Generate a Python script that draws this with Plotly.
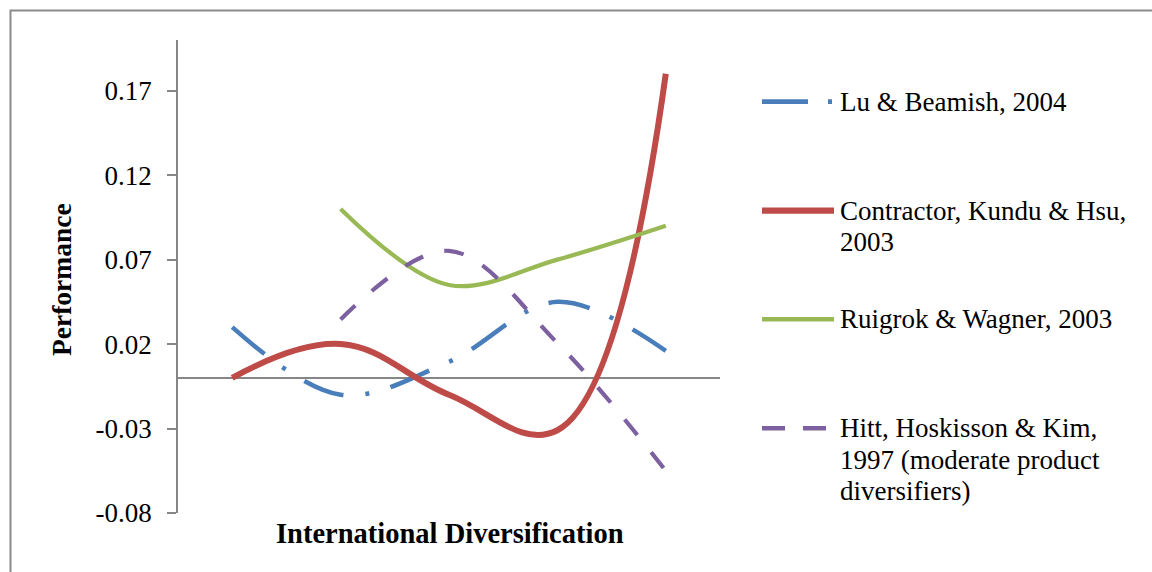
import plotly.graph_objects as go

# ---- data -------------------------------------------------------------
categories = [1, 2, 3, 4, 5]
lu_beamish = [0.030, -0.010, 0.0095, 0.045, 0.016]
contractor = [0.000, 0.020, -0.010, -0.031, 0.180]
ruigrok = [None, 0.100, 0.055, 0.070, 0.090]
hitt = [None, 0.0346, 0.0752, 0.0206, -0.055]

series_names = [
    "Lu & Beamish, 2004",
    "Contractor, Kundu & Hsu,<br>2003",
    "Ruigrok & Wagner, 2003",
    "Hitt, Hoskisson & Kim,<br>1997 (moderate product<br>diversifiers)",
]
y_tickvals = [-0.08, -0.03, 0.02, 0.07, 0.12, 0.17]
y_ticktext = ["-0.08", "-0.03", "0.02", "0.07", "0.12", "0.17"]
x_title = "International Diversification"
y_title = "Performance"

# ---- styling ----------------------------------------------------------
W, H = 1152, 572
L, R, T, B = 178, 720, 40, 513          # plot area in pixels
GRAY = "#868686"
FONT = "Liberation Serif"

styles = [
    dict(color="#4A7EBB", width=4.5, dash="42px,22px,4px,22px", smoothing=1.0),
    dict(color="#BE4B48", width=6, dash="solid", smoothing=1.15),
    dict(color="#98B954", width=4.2, dash="solid", smoothing=1.0),
    dict(color="#7D60A0", width=4.2, dash="20px,22px", smoothing=1.0),
]
legend_dash = ["46px,20px,4px,20px", "solid", "solid", "23px,18px"]


def px(x):
    return (x - L) / (R - L)


def py(y):
    return (B - y) / (B - T)


fig = go.Figure()
for name, values, st in zip(series_names, [lu_beamish, contractor, ruigrok, hitt], styles):
    fig.add_trace(go.Scatter(
        x=categories, y=values, mode="lines",
        name=name.replace("<br>", " "),
        line=dict(color=st["color"], width=st["width"], dash=st["dash"],
                  shape="spline", smoothing=st["smoothing"]),
        hoverinfo="skip",
    ))

shapes = [
    # outer chart frame
    dict(type="rect", xref="paper", yref="paper",
         x0=px(10.5), x1=px(1175), y0=py(590), y1=py(10.5),
         line=dict(color="#8a8a8a", width=2), fillcolor="rgba(0,0,0,0)", layer="below"),
]
annotations = []

# legend, drawn by hand on the right-hand side
entry_y = [101.7, 210.7, 319.3, 428.3]
line_gap = 31.5
for name, st, dash, y0 in zip(series_names, styles, legend_dash, entry_y):
    shapes.append(dict(type="line", xref="paper", yref="paper",
                       x0=px(762), x1=px(834), y0=py(y0), y1=py(y0),
                       line=dict(color=st["color"], width=st["width"] + 0.3, dash=dash)))
    for k, part in enumerate(name.split("<br>")):
        annotations.append(dict(text=part, xref="paper", yref="paper",
                                x=px(838), y=py(y0 + k * line_gap),
                                xanchor="left", yanchor="middle", showarrow=False,
                                font=dict(family=FONT, size=27, color="black")))

# axis titles
annotations.append(dict(text="<b>%s</b>" % x_title, xref="paper", yref="paper",
                        x=px(450), y=py(533), xanchor="center", yanchor="middle",
                        showarrow=False, font=dict(family=FONT, size=28.5, color="black")))
annotations.append(dict(text="<b>%s</b>" % y_title, xref="paper", yref="paper",
                        x=px(61), y=py(280), xanchor="center", yanchor="middle",
                        textangle=-90, showarrow=False,
                        font=dict(family=FONT, size=27.5, color="black")))

fig.update_layout(
    width=W, height=H,
    margin=dict(l=L, r=W - R, t=T, b=H - B, pad=0),
    paper_bgcolor="white", plot_bgcolor="white",
    showlegend=False,
    font=dict(family=FONT, color="black"),
    xaxis=dict(range=[0.5, 5.5], visible=False, fixedrange=True),
    yaxis=dict(range=[-0.08, 0.2], tickvals=y_tickvals, ticktext=y_ticktext,
               ticks="outside", ticklen=9, tickwidth=1.5, tickcolor=GRAY,
               showline=True, linewidth=1.5, linecolor=GRAY,
               showgrid=False, zeroline=True, zerolinecolor=GRAY, zerolinewidth=1.5,
               tickfont=dict(family=FONT, size=27, color="black"),
               ticklabelstandoff=10, fixedrange=True),
    shapes=shapes,
    annotations=annotations,
)

fig.write_html("out.html", config={"displayModeBar": False})
